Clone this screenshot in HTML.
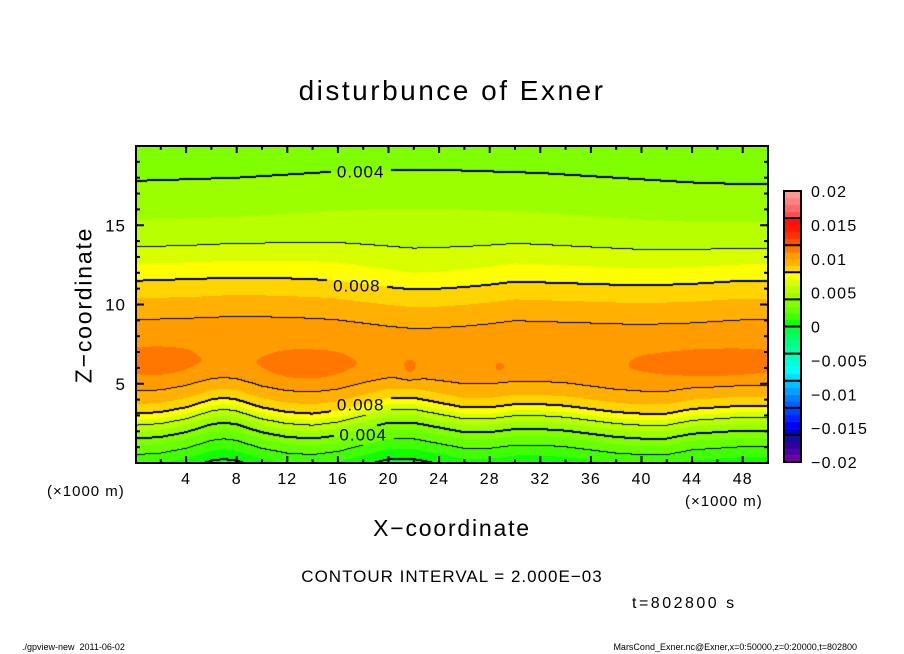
<!DOCTYPE html>
<html><head><meta charset="utf-8">
<style>
body{margin:0;background:#fff;}
#wrap{position:relative;width:904px;height:654px;overflow:hidden;font-family:"Liberation Sans",sans-serif;color:#000;}
.t{position:absolute;white-space:nowrap;}
</style></head>
<body>
<div id="wrap">
<div class="t" style="left:0;width:904px;text-align:center;top:75px;font-size:28px;letter-spacing:2.5px;">disturbunce of Exner</div>
<canvas id="cv" width="904" height="654" style="position:absolute;left:0;top:0;"></canvas>
<svg id="ov" width="904" height="654" style="position:absolute;left:0;top:0;"></svg>
<div class="t" style="left:47px;top:483px;font-size:15px;letter-spacing:1px;">(×1000 m)</div>
<div class="t" style="left:685px;top:493px;font-size:15px;letter-spacing:1px;">(×1000 m)</div>
<div class="t" style="left:0;width:904px;text-align:center;top:515px;font-size:23px;letter-spacing:1.8px;">X−coordinate</div>
<div class="t" style="left:84px;top:305px;font-size:23px;letter-spacing:1.8px;transform:translate(-50%,-50%) rotate(-90deg);">Z−coordinate</div>
<div class="t" style="left:0;width:904px;text-align:center;top:567px;font-size:17px;letter-spacing:1px;">CONTOUR INTERVAL = 2.000E−03</div>
<div class="t" style="left:632px;top:595px;font-size:16px;letter-spacing:2.5px;">t=802800 s</div>
<div class="t" style="left:22px;top:642px;font-size:9px;">./gpview-new&nbsp;&nbsp;2011-06-02</div>
<div class="t" style="right:47px;top:642px;font-size:9px;">MarsCond_Exner.nc@Exner,x=0:50000,z=0:20000,t=802800</div>
</div>
<script>
// vertical profile of disturbance (value per km height, z=0..20)
const profileValues=[0.0012,0.0028,0.0050,0.0078,0.0095,0.0104,0.0107,0.0107,0.0104,0.0100,0.0093,0.0085,0.0075,0.0066,0.0056,0.0051,0.0048,0.0044,0.0039,0.0035,0.0032];
// x positions (km) of displacement samples
const dispX=[0,2,4,6,7,8,10,12,14,16,18,20,22,24,26,28,30,32,34,36,38,40,42,44,46,48,50];
const dispLow=[0,0.1,0.4,0.9,1.0,0.9,0.4,0.1,0,0.2,0.6,1.0,1.0,0.7,0.4,0.4,0.6,0.6,0.5,0.3,0.1,0,0,0.3,0.4,0.5,0.5];
const dispMid=[0,0.05,0.1,0.15,0.2,0.2,0.2,0.15,0.1,0,-0.2,-0.4,-0.55,-0.5,-0.4,-0.25,-0.05,-0.1,-0.15,-0.2,-0.25,-0.3,-0.25,-0.2,-0.1,0,0];
const dispTop=[0,0.05,0.1,0.15,0.2,0.2,0.3,0.4,0.5,0.6,0.65,0.7,0.7,0.7,0.65,0.6,0.55,0.5,0.4,0.3,0.2,0.1,0,-0.1,-0.15,-0.2,-0.2];
// maxima blobs
const blobX=[1.5,13.5,46,21.7,28.8];
const blobZ=[6.4,6.1,6.2,5.9,6.0];
const blobSX=[2.6,2.9,5.0,0.5,0.4];
const blobSZ=[0.8,0.8,0.8,0.5,0.3];
const blobAmp=[0.0008,0.0008,0.0008,0.0006,0.0005];
// colour bins of 0.001 from -0.02 upward
const binColors=["#7000a8","#5000a8","#3000a0","#1010a0","#0000d0","#0000ff","#0020ff","#0040ff","#0060ff","#0080ff","#00a0ff","#00c0ff","#00e0ff","#00ffff","#00ffe0","#00ffc0","#00ffa0","#00ff80","#00ff60","#00ff40","#10ff00","#40ff00","#68ff00","#80ff00","#9cff00","#b8ff00","#d8ff00","#ffff00","#ffd400","#ffb000","#ff9c00","#ff7700","#ff5000","#ff3000","#ff1800","#ff1010","#ff5050","#ff6868","#ff8080","#ff9999"];
const cbTicks=[-0.02,-0.015,-0.01,-0.005,0,0.005,0.01,0.015,0.02];
const cbTickLabels=["−0.02","−0.015","−0.01","−0.005","0","0.005","0.01","0.015","0.02"];
const xTicks=[4,8,12,16,20,24,28,32,36,40,44,48];
const zTicks=[5,10,15];
const contourLabels=[{t:"0.004",x:17.8,z:18.4},{t:"0.008",x:17.5,z:11.2},{t:"0.008",x:17.8,z:3.7},{t:"0.004",x:18.0,z:1.8}];

const L=136,R=768,T=146,B=463;
const X=u=>135.5+u*(R-135.5)/50;
const Z=z=>B-z*(B-T)/20;
const CB={x:784,w:17,top:191,bot:462};
const CBY=v=>CB.bot-(v+0.02)/0.04*(CB.bot-CB.top);

function interp(xs,ys,x){
  if(x<=xs[0])return ys[0];
  for(let i=1;i<xs.length;i++){if(x<=xs[i]){const f=(x-xs[i-1])/(xs[i]-xs[i-1]);return ys[i-1]+f*(ys[i]-ys[i-1]);}}
  return ys[ys.length-1];
}
function prof(z){
  if(z<=0)return profileValues[0]+z*(profileValues[1]-profileValues[0]);
  if(z>=20)return profileValues[20];
  const i=Math.floor(z),f=z-i;return profileValues[i]+f*(profileValues[i+1]-profileValues[i]);
}
function field(x,z){
  const wL=z<=5?1:z>=8?0:(8-z)/3;
  const wT=z>=16?1:z<=12?0:(z-12)/4;
  const wM=1-wL-wT;
  const d=wL*interp(dispX,dispLow,x)+wM*interp(dispX,dispMid,x)+wT*interp(dispX,dispTop,x);
  let v=prof(z-d);
  for(let i=0;i<blobX.length;i++){
    const a=(x-blobX[i])/blobSX[i],b=(z-blobZ[i])/blobSZ[i];
    v+=blobAmp[i]*Math.exp(-0.5*(a*a+b*b));
  }
  return v;
}
const cv=document.getElementById('cv'),ctx=cv.getContext('2d');
const W=R-L,H=B-T;
const img=ctx.createImageData(W,H);
const vals=new Float32Array(W*H);
const rgb=binColors.map(c=>[parseInt(c.substr(1,2),16),parseInt(c.substr(3,2),16),parseInt(c.substr(5,2),16)]);
for(let j=0;j<H;j++){for(let i=0;i<W;i++){
  const x=(L+i+0.5-135.5)*50/(R-135.5), z=(B-(T+j+0.5))*20/(B-T);
  const v=field(x,z);vals[j*W+i]=v;
  let b=Math.floor((v+0.02)/0.001);b=Math.max(0,Math.min(39,b));
  const k=(j*W+i)*4;img.data[k]=rgb[b][0];img.data[k+1]=rgb[b][1];img.data[k+2]=rgb[b][2];img.data[k+3]=255;
}}
// contours
const boxes=contourLabels.map(c=>({x0:X(c.x)-30-L,x1:X(c.x)+30-L,y0:Z(c.z)-10-T,y1:Z(c.z)+10-T}));
function inBox(i,j){return boxes.some(b=>i>=b.x0&&i<=b.x1&&j>=b.y0&&j<=b.y1);}
function setBlack(i,j){if(i<0||j<0||i>=W||j>=H)return;const k=(j*W+i)*4;img.data[k]=0;img.data[k+1]=0;img.data[k+2]=0;}
const lev=v=>Math.floor(v/0.002);
for(let j=0;j<H-1;j++){for(let i=0;i<W-1;i++){
  const a=lev(vals[j*W+i]),r=lev(vals[j*W+i+1]),d=lev(vals[(j+1)*W+i]);
  if(a!==r||a!==d){
    if(inBox(i,j))continue;
    const m=Math.max(a,r,d);
    setBlack(i,j);
    if(m%2===0){setBlack(i,j+1);}
  }
}}
ctx.putImageData(img,L,T);
// colorbar
for(let b=0;b<40;b++){
  const v0=-0.02+b*0.001;ctx.fillStyle=binColors[b];
  const y1=CBY(v0),y2=CBY(v0+0.001);
  ctx.fillRect(CB.x,y2,CB.w,y1-y2+0.5);
}
// svg overlay
const NS="http://www.w3.org/2000/svg",ov=document.getElementById('ov');
function el(t,a){const e=document.createElementNS(NS,t);for(const k in a)e.setAttribute(k,a[k]);ov.appendChild(e);return e;}
let e;
e=el('rect',{x:L,y:T,width:R-L,height:B-T,fill:'none',stroke:'#000','stroke-width':2});


for(let u=2;u<50;u+=2){
  const maj=xTicks.includes(u),len=maj?7:4;
  e=el('line',{x1:X(u),x2:X(u),y1:B,y2:B-len,stroke:'#000','stroke-width':2});
  
  
  e=el('line',{x1:X(u),x2:X(u),y1:T,y2:T+len,stroke:'#000','stroke-width':2});
  
  
}
xTicks.forEach(u=>{
  e=el('text',{x:X(u),y:484,'text-anchor':'middle','font-size':16,'letter-spacing':1,'font-family':'Liberation Sans, sans-serif'});e.textContent=String(u);
  
  
});
for(let z=1;z<20;z++){
  const maj=zTicks.includes(z),len=maj?8:4;
  e=el('line',{x1:L,x2:L+len,y1:Z(z),y2:Z(z),stroke:'#000','stroke-width':2});
  
  
  e=el('line',{x1:R,x2:R-len,y1:Z(z),y2:Z(z),stroke:'#000','stroke-width':2});
  
  
}
zTicks.forEach(z=>{
  e=el('text',{x:126,y:Z(z)+6,'text-anchor':'end','font-size':17,'letter-spacing':1,'font-family':'Liberation Sans, sans-serif'});e.textContent=String(z);
  
  
});
contourLabels.forEach(c=>{
  e=el('text',{x:X(c.x),y:Z(c.z)+6,'text-anchor':'middle','font-size':17,'letter-spacing':1,'font-family':'Liberation Sans, sans-serif'});e.textContent=c.t;
  
  
});
e=el('rect',{x:CB.x,y:CB.top,width:CB.w,height:CB.bot-CB.top,fill:'none',stroke:'#000','stroke-width':2});


for(let v=-0.016;v<0.0199;v+=0.004){
  e=el('line',{x1:CB.x,x2:CB.x+CB.w,y1:CBY(v),y2:CBY(v),stroke:'#000','stroke-width':2});
  
  
}
cbTicks.forEach((v,i)=>{
  e=el('text',{x:811,y:CBY(v)+6,'font-size':16,'letter-spacing':1.3,'font-family':'Liberation Sans, sans-serif'});e.textContent=cbTickLabels[i];
  
  
});
</script>
</body></html>
